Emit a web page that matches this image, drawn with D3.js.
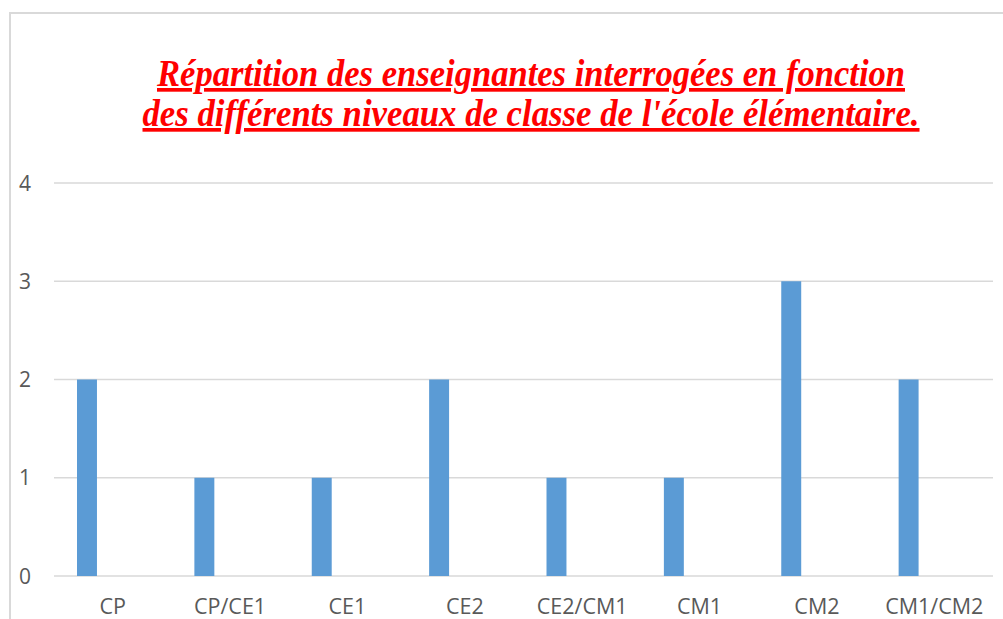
<!DOCTYPE html>
<html>
<head>
<meta charset="utf-8">
<script src="https://cdn.jsdelivr.net/npm/d3@7"></script>
<style>
  body { margin: 0; background: #fff; }
  svg { display: block; }
</style>
</head>
<body>
<div class="canvas"></div>
<script>
// data
const categories = ['CP', 'CP/CE1', 'CE1', 'CE2', 'CE2/CM1', 'CM1', 'CM2', 'CM1/CM2'];
const values = [2, 1, 1, 2, 1, 1, 3, 2];
const yTicks = [0, 1, 2, 3, 4];
const titleLines = [
    "Répartition des enseignantes interrogées en fonction",
    "des différents niveaux de classe de l'école élémentaire."
];

const dims = { width: 1003, height: 619 };
const plot = { left: 54, right: 993, top: 183, bottom: 576 };

const svg = d3.select('.canvas')
    .append('svg')
    .attr('width', dims.width)
    .attr('height', dims.height);

// chart frame (light grey border, runs off right and bottom)
svg.append('rect')
    .attr('x', 10)
    .attr('y', 13)
    .attr('width', 1010)
    .attr('height', 640)
    .attr('fill', 'none')
    .attr('stroke', '#d9d9d9')
    .attr('stroke-width', 2);

const x = d3.scaleBand()
    .domain(categories)
    .range([plot.left, plot.right])
    .padding(0);

const y = d3.scaleLinear()
    .domain([0, 4])
    .range([plot.bottom, plot.top]);

// gridlines
svg.append('g')
    .selectAll('line')
    .data(yTicks)
    .join('line')
    .attr('x1', plot.left)
    .attr('x2', plot.right)
    .attr('y1', d => y(d))
    .attr('y2', d => y(d))
    .attr('stroke', '#d9d9d9')
    .attr('stroke-width', 1.5);

// y tick labels
svg.append('g')
    .selectAll('text')
    .data(yTicks)
    .join('text')
    .attr('x', 31)
    .attr('y', d => y(d))
    .attr('dy', '0.36em')
    .attr('text-anchor', 'end')
    .attr('font-family', 'Open Sans, sans-serif')
    .attr('font-size', 21)
    .attr('fill', '#595959')
    .text(d => d);

// bars sit in the left part of each slot (empty second series in the original)
const bw = x.bandwidth();
svg.append('g')
    .selectAll('rect')
    .data(values)
    .join('rect')
    .attr('x', (d, i) => x(categories[i]) + bw * 0.196)
    .attr('width', bw * 0.17)
    .attr('y', d => y(d))
    .attr('height', d => y(0) - y(d))
    .attr('fill', '#5b9bd5');

// category labels
svg.append('g')
    .selectAll('text')
    .data(categories)
    .join('text')
    .attr('x', d => x(d) + bw / 2)
    .attr('y', 614)
    .attr('text-anchor', 'middle')
    .attr('font-family', 'Open Sans, sans-serif')
    .attr('font-size', 21.5)
    .attr('fill', '#595959')
    .text(d => d);

// title: red bold italic serif, underlined, horizontally squeezed
const titleWidths = [748, 777];
svg.append('g')
    .selectAll('text')
    .data(titleLines)
    .join('text')
    .attr('x', 531)
    .attr('y', (d, i) => 86 + i * 40)
    .attr('text-anchor', 'middle')
    .attr('font-family', 'Liberation Serif, Times New Roman, serif')
    .attr('font-weight', 'bold')
    .attr('font-style', 'italic')
    .attr('font-size', 37)
    .attr('fill', '#ff0000')
    .attr('textLength', (d, i) => titleWidths[i])
    .attr('lengthAdjust', 'spacingAndGlyphs')
    .style('text-decoration', 'underline')
    .text(d => d);
</script>
</body>
</html>
